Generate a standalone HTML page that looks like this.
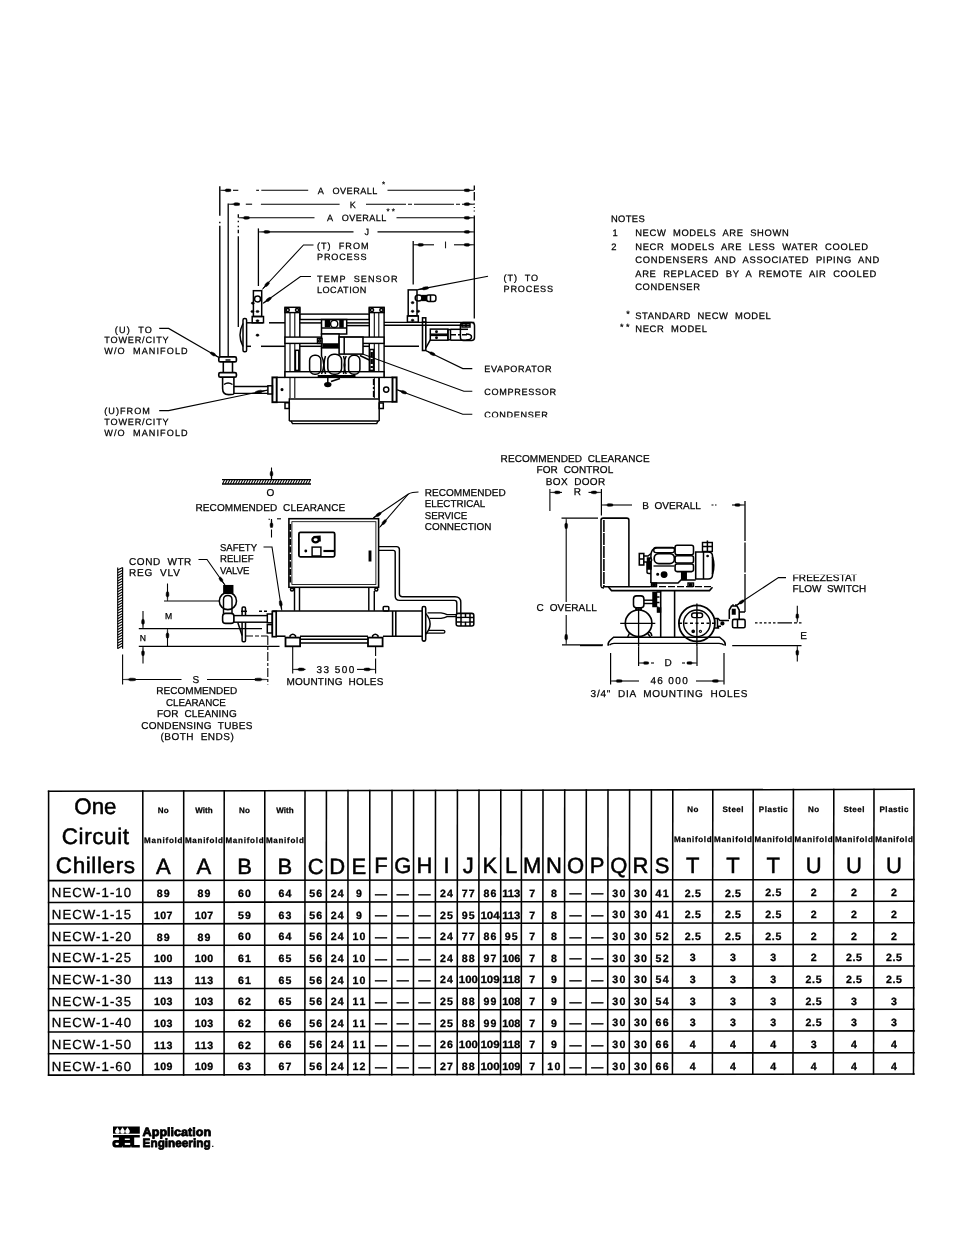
<!DOCTYPE html>
<html lang="en"><head><meta charset="utf-8"><title>One Circuit Chillers - Dimensions</title>
<style>
html,body{margin:0;padding:0;background:#fff}
svg{display:block;font-family:"Liberation Sans",sans-serif;will-change:transform;text-rendering:geometricPrecision}
text{fill:#000;stroke:none;white-space:pre}
.b{font-weight:bold}
.s3{stroke:#000;stroke-width:.3px}
.s2{stroke:#000;stroke-width:.25px}
.s5{stroke:#000;stroke-width:.5px}
.lg{stroke:#000;stroke-width:.8px;stroke-linejoin:round}
.d{font-size:9px}
</style></head><body>
<svg width="954" height="1235" viewBox="0 0 954 1235" stroke="#000" fill="none" stroke-width="1.3">
<rect x="0" y="0" width="954" height="1235" style="fill:#fff;stroke:none"/>
<g id="table">
<g stroke-width="1.55" stroke-linecap="square">
<line x1="48.6" y1="791.3" x2="48.6" y2="1075.1" stroke-width="1.55"/>
<line x1="142.8" y1="791.086" x2="142.746" y2="1074.98" stroke-width="1.55"/>
<line x1="183.7" y1="790.985" x2="183.622" y2="1074.92" stroke-width="1.55"/>
<line x1="224.2" y1="790.894" x2="224.099" y2="1074.87" stroke-width="1.55"/>
<line x1="264.8" y1="790.804" x2="264.675" y2="1074.82" stroke-width="1.55"/>
<line x1="305" y1="790.714" x2="304.852" y2="1074.77" stroke-width="1.55"/>
<line x1="326.4" y1="790.662" x2="326.24" y2="1074.74" stroke-width="1.55"/>
<line x1="348" y1="790.611" x2="347.827" y2="1074.71" stroke-width="1.55"/>
<line x1="369.8" y1="790.559" x2="369.615" y2="1074.68" stroke-width="1.55"/>
<line x1="392" y1="790.507" x2="391.802" y2="1074.65" stroke-width="1.55"/>
<line x1="413.6" y1="790.465" x2="413.389" y2="1074.63" stroke-width="1.55"/>
<line x1="435.5" y1="790.413" x2="435.277" y2="1074.6" stroke-width="1.55"/>
<line x1="457.4" y1="790.361" x2="457.164" y2="1074.57" stroke-width="1.55"/>
<line x1="479" y1="790.31" x2="478.752" y2="1074.54" stroke-width="1.55"/>
<line x1="500.8" y1="790.258" x2="500.539" y2="1074.51" stroke-width="1.55"/>
<line x1="521.5" y1="790.217" x2="521.227" y2="1074.49" stroke-width="1.55"/>
<line x1="543" y1="790.166" x2="542.715" y2="1074.46" stroke-width="1.55"/>
<line x1="564.7" y1="790.114" x2="564.402" y2="1074.43" stroke-width="1.55"/>
<line x1="586.3" y1="790.062" x2="585.99" y2="1074.4" stroke-width="1.55"/>
<line x1="608" y1="790.011" x2="607.677" y2="1074.37" stroke-width="1.55"/>
<line x1="629.6" y1="789.959" x2="629.265" y2="1074.34" stroke-width="1.55"/>
<line x1="651.4" y1="789.917" x2="651.052" y2="1074.32" stroke-width="1.55"/>
<line x1="672.8" y1="789.866" x2="672.44" y2="1074.29" stroke-width="1.55"/>
<line x1="712.8" y1="789.776" x2="712.417" y2="1074.24" stroke-width="1.55"/>
<line x1="753.2" y1="789.675" x2="752.793" y2="1074.18" stroke-width="1.55"/>
<line x1="793.4" y1="789.585" x2="792.97" y2="1074.13" stroke-width="1.55"/>
<line x1="833.8" y1="789.495" x2="833.347" y2="1074.08" stroke-width="1.55"/>
<line x1="874" y1="789.405" x2="873.523" y2="1074.03" stroke-width="1.55"/>
<line x1="914" y1="789.305" x2="913.5" y2="1073.97" stroke-width="1.55"/>
<line x1="48.6" y1="791.3" x2="914" y2="789.3" stroke-width="1.55"/>
<line x1="48.6" y1="880.6" x2="914" y2="879.47" stroke-width="1.55"/>
<line x1="48.6" y1="902.4" x2="914" y2="901.27" stroke-width="1.55"/>
<line x1="48.6" y1="923.9" x2="914" y2="922.77" stroke-width="1.55"/>
<line x1="48.6" y1="945.5" x2="914" y2="944.37" stroke-width="1.55"/>
<line x1="48.6" y1="967.1" x2="914" y2="965.97" stroke-width="1.55"/>
<line x1="48.6" y1="988.8" x2="914" y2="987.67" stroke-width="1.55"/>
<line x1="48.6" y1="1010.4" x2="914" y2="1009.27" stroke-width="1.55"/>
<line x1="48.6" y1="1032" x2="914" y2="1030.87" stroke-width="1.55"/>
<line x1="48.6" y1="1053.8" x2="914" y2="1052.67" stroke-width="1.55"/>
<line x1="48.6" y1="1075.1" x2="914" y2="1073.97" stroke-width="1.55"/>
</g>
<text x="74.3" y="813.6" font-size="22.5" textLength="42.2" lengthAdjust="spacingAndGlyphs" class="s5">One</text>
<text x="61.7" y="843.6" font-size="22.5" textLength="67.4" class="s5">Circuit</text>
<text x="55.8" y="873.2" font-size="22.5" textLength="79.2" class="s5">Chillers</text>
<text x="157.75" y="813.05" font-size="8" textLength="11" class="b s2">No</text>
<text x="144" y="843.05" font-size="8" textLength="38.5" class="b s2">Manifold</text>
<text x="195.2" y="813" font-size="8" textLength="17.5" class="b s2">With</text>
<text x="184.9" y="843" font-size="8" textLength="38.1" class="b s2">Manifold</text>
<text x="239" y="812.95" font-size="8" textLength="11" class="b s2">No</text>
<text x="225.4" y="842.95" font-size="8" textLength="38.2" class="b s2">Manifold</text>
<text x="276.15" y="812.89" font-size="8" textLength="17.5" class="b s2">With</text>
<text x="266" y="842.89" font-size="8" textLength="37.8" class="b s2">Manifold</text>
<text x="687.3" y="812.36" font-size="8" textLength="11" class="b s2">No</text>
<text x="674" y="842.36" font-size="8" textLength="37.6" class="b s2">Manifold</text>
<text x="722.5" y="812.31" font-size="8" textLength="21" class="b s2">Steel</text>
<text x="714" y="842.31" font-size="8" textLength="38" class="b s2">Manifold</text>
<text x="758.8" y="812.26" font-size="8" textLength="29" class="b s2">Plastic</text>
<text x="754.4" y="842.26" font-size="8" textLength="37.8" class="b s2">Manifold</text>
<text x="808.1" y="812.21" font-size="8" textLength="11" class="b s2">No</text>
<text x="794.6" y="842.21" font-size="8" textLength="38" class="b s2">Manifold</text>
<text x="843.4" y="812.15" font-size="8" textLength="21" class="b s2">Steel</text>
<text x="835" y="842.15" font-size="8" textLength="37.8" class="b s2">Manifold</text>
<text x="879.5" y="812.1" font-size="8" textLength="29" class="b s2">Plastic</text>
<text x="875.2" y="842.1" font-size="8" textLength="37.6" class="b s2">Manifold</text>
<text x="163.25" y="873.75" font-size="22" text-anchor="middle" class="s5">A</text>
<text x="203.95" y="873.7" font-size="22" text-anchor="middle" class="s5">A</text>
<text x="244.5" y="873.65" font-size="22" text-anchor="middle" class="s5">B</text>
<text x="284.9" y="873.59" font-size="22" text-anchor="middle" class="s5">B</text>
<text x="315.7" y="873.55" font-size="22" text-anchor="middle" class="s5">C</text>
<text x="337.2" y="873.52" font-size="22" text-anchor="middle" class="s5">D</text>
<text x="358.9" y="873.5" font-size="22" text-anchor="middle" class="s5">E</text>
<text x="380.9" y="873.47" font-size="22" text-anchor="middle" class="s5">F</text>
<text x="402.8" y="873.44" font-size="22" text-anchor="middle" class="s5">G</text>
<text x="424.55" y="873.41" font-size="22" text-anchor="middle" class="s5">H</text>
<text x="446.45" y="873.38" font-size="22" text-anchor="middle" class="s5">I</text>
<text x="468.2" y="873.35" font-size="22" text-anchor="middle" class="s5">J</text>
<text x="489.9" y="873.33" font-size="22" text-anchor="middle" class="s5">K</text>
<text x="511.15" y="873.3" font-size="22" text-anchor="middle" class="s5">L</text>
<text x="532.25" y="873.27" font-size="22" text-anchor="middle" class="s5">M</text>
<text x="553.85" y="873.24" font-size="22" text-anchor="middle" class="s5">N</text>
<text x="575.5" y="873.22" font-size="22" text-anchor="middle" class="s5">O</text>
<text x="597.15" y="873.19" font-size="22" text-anchor="middle" class="s5">P</text>
<text x="618.8" y="873.16" font-size="22" text-anchor="middle" class="s5">Q</text>
<text x="640.5" y="873.13" font-size="22" text-anchor="middle" class="s5">R</text>
<text x="662.1" y="873.1" font-size="22" text-anchor="middle" class="s5">S</text>
<text x="692.8" y="873.06" font-size="22" text-anchor="middle" class="s5">T</text>
<text x="733" y="873.01" font-size="22" text-anchor="middle" class="s5">T</text>
<text x="773.3" y="872.96" font-size="22" text-anchor="middle" class="s5">T</text>
<text x="813.6" y="872.91" font-size="22" text-anchor="middle" class="s5">U</text>
<text x="853.9" y="872.85" font-size="22" text-anchor="middle" class="s5">U</text>
<text x="894" y="872.8" font-size="22" text-anchor="middle" class="s5">U</text>
<text x="51.8" y="897.4" font-size="13.2" textLength="79.3" class="s3">NECW-1-10</text>
<text x="156.75" y="897.25" font-size="10.6" textLength="13" class="b s3">89</text>
<text x="197.45" y="897.2" font-size="10.6" textLength="13" class="b s3">89</text>
<text x="238" y="897.15" font-size="10.6" textLength="13" class="b s3">60</text>
<text x="278.4" y="897.09" font-size="10.6" textLength="13" class="b s3">64</text>
<text x="309.2" y="897.05" font-size="10.6" textLength="13" class="b s3">56</text>
<text x="330.7" y="897.02" font-size="10.6" textLength="13" class="b s3">24</text>
<text x="358.9" y="897" font-size="10.6" text-anchor="middle" class="b s3">9</text>
<text x="380.9" y="897.67" font-size="12" text-anchor="middle" class="b s3">—</text>
<text x="402.8" y="897.64" font-size="12" text-anchor="middle" class="b s3">—</text>
<text x="424.55" y="897.61" font-size="12" text-anchor="middle" class="b s3">—</text>
<text x="439.95" y="896.88" font-size="10.6" textLength="13" class="b s3">24</text>
<text x="461.7" y="896.85" font-size="10.6" textLength="13" class="b s3">77</text>
<text x="483.4" y="896.83" font-size="10.6" textLength="13" class="b s3">86</text>
<text x="502.2" y="896.8" font-size="10.6" textLength="18.1" lengthAdjust="spacingAndGlyphs" class="b s3">113</text>
<text x="532.25" y="896.77" font-size="10.6" text-anchor="middle" class="b s3">7</text>
<text x="553.85" y="896.74" font-size="10.6" text-anchor="middle" class="b s3">8</text>
<text x="575.5" y="897.42" font-size="12" text-anchor="middle" class="b s3">—</text>
<text x="597.15" y="897.39" font-size="12" text-anchor="middle" class="b s3">—</text>
<text x="612.3" y="896.66" font-size="10.6" textLength="13" class="b s3">30</text>
<text x="634" y="896.63" font-size="10.6" textLength="13" class="b s3">30</text>
<text x="655.6" y="896.6" font-size="10.6" textLength="13" class="b s3">41</text>
<text x="684.8" y="896.56" font-size="10.6" textLength="16" class="b s3">2.5</text>
<text x="725" y="896.51" font-size="10.6" textLength="16" class="b s3">2.5</text>
<text x="765.3" y="896.46" font-size="10.6" textLength="16" class="b s3">2.5</text>
<text x="813.6" y="896.41" font-size="10.6" text-anchor="middle" class="b s3">2</text>
<text x="853.9" y="896.35" font-size="10.6" text-anchor="middle" class="b s3">2</text>
<text x="894" y="896.3" font-size="10.6" text-anchor="middle" class="b s3">2</text>
<text x="51.8" y="919.2" font-size="13.2" textLength="79.3" class="s3">NECW-1-15</text>
<text x="154.05" y="919.05" font-size="10.6" textLength="18.4" class="b s3">107</text>
<text x="194.75" y="919" font-size="10.6" textLength="18.4" class="b s3">107</text>
<text x="238" y="918.95" font-size="10.6" textLength="13" class="b s3">59</text>
<text x="278.4" y="918.89" font-size="10.6" textLength="13" class="b s3">63</text>
<text x="309.2" y="918.85" font-size="10.6" textLength="13" class="b s3">56</text>
<text x="330.7" y="918.82" font-size="10.6" textLength="13" class="b s3">24</text>
<text x="358.9" y="918.8" font-size="10.6" text-anchor="middle" class="b s3">9</text>
<text x="380.9" y="919.47" font-size="12" text-anchor="middle" class="b s3">—</text>
<text x="402.8" y="919.44" font-size="12" text-anchor="middle" class="b s3">—</text>
<text x="424.55" y="919.41" font-size="12" text-anchor="middle" class="b s3">—</text>
<text x="439.95" y="918.68" font-size="10.6" textLength="13" class="b s3">25</text>
<text x="461.7" y="918.65" font-size="10.6" textLength="13" class="b s3">95</text>
<text x="480.4" y="918.63" font-size="10.6" textLength="19.2" lengthAdjust="spacingAndGlyphs" class="b s3">104</text>
<text x="502.2" y="918.6" font-size="10.6" textLength="18.1" lengthAdjust="spacingAndGlyphs" class="b s3">113</text>
<text x="532.25" y="918.57" font-size="10.6" text-anchor="middle" class="b s3">7</text>
<text x="553.85" y="918.54" font-size="10.6" text-anchor="middle" class="b s3">8</text>
<text x="575.5" y="919.22" font-size="12" text-anchor="middle" class="b s3">—</text>
<text x="597.15" y="919.19" font-size="12" text-anchor="middle" class="b s3">—</text>
<text x="612.3" y="918.46" font-size="10.6" textLength="13" class="b s3">30</text>
<text x="634" y="918.43" font-size="10.6" textLength="13" class="b s3">30</text>
<text x="655.6" y="918.4" font-size="10.6" textLength="13" class="b s3">41</text>
<text x="684.8" y="918.36" font-size="10.6" textLength="16" class="b s3">2.5</text>
<text x="725" y="918.31" font-size="10.6" textLength="16" class="b s3">2.5</text>
<text x="765.3" y="918.26" font-size="10.6" textLength="16" class="b s3">2.5</text>
<text x="813.6" y="918.21" font-size="10.6" text-anchor="middle" class="b s3">2</text>
<text x="853.9" y="918.15" font-size="10.6" text-anchor="middle" class="b s3">2</text>
<text x="894" y="918.1" font-size="10.6" text-anchor="middle" class="b s3">2</text>
<text x="51.8" y="940.7" font-size="13.2" textLength="79.3" class="s3">NECW-1-20</text>
<text x="156.75" y="940.55" font-size="10.6" textLength="13" class="b s3">89</text>
<text x="197.45" y="940.5" font-size="10.6" textLength="13" class="b s3">89</text>
<text x="238" y="940.45" font-size="10.6" textLength="13" class="b s3">60</text>
<text x="278.4" y="940.39" font-size="10.6" textLength="13" class="b s3">64</text>
<text x="309.2" y="940.35" font-size="10.6" textLength="13" class="b s3">56</text>
<text x="330.7" y="940.32" font-size="10.6" textLength="13" class="b s3">24</text>
<text x="352.4" y="940.3" font-size="10.6" textLength="13" class="b s3">10</text>
<text x="380.9" y="940.97" font-size="12" text-anchor="middle" class="b s3">—</text>
<text x="402.8" y="940.94" font-size="12" text-anchor="middle" class="b s3">—</text>
<text x="424.55" y="940.91" font-size="12" text-anchor="middle" class="b s3">—</text>
<text x="439.95" y="940.18" font-size="10.6" textLength="13" class="b s3">24</text>
<text x="461.7" y="940.15" font-size="10.6" textLength="13" class="b s3">77</text>
<text x="483.4" y="940.13" font-size="10.6" textLength="13" class="b s3">86</text>
<text x="504.65" y="940.1" font-size="10.6" textLength="13" class="b s3">95</text>
<text x="532.25" y="940.07" font-size="10.6" text-anchor="middle" class="b s3">7</text>
<text x="553.85" y="940.04" font-size="10.6" text-anchor="middle" class="b s3">8</text>
<text x="575.5" y="940.72" font-size="12" text-anchor="middle" class="b s3">—</text>
<text x="597.15" y="940.69" font-size="12" text-anchor="middle" class="b s3">—</text>
<text x="612.3" y="939.96" font-size="10.6" textLength="13" class="b s3">30</text>
<text x="634" y="939.93" font-size="10.6" textLength="13" class="b s3">30</text>
<text x="655.6" y="939.9" font-size="10.6" textLength="13" class="b s3">52</text>
<text x="684.8" y="939.86" font-size="10.6" textLength="16" class="b s3">2.5</text>
<text x="725" y="939.81" font-size="10.6" textLength="16" class="b s3">2.5</text>
<text x="765.3" y="939.76" font-size="10.6" textLength="16" class="b s3">2.5</text>
<text x="813.6" y="939.71" font-size="10.6" text-anchor="middle" class="b s3">2</text>
<text x="853.9" y="939.65" font-size="10.6" text-anchor="middle" class="b s3">2</text>
<text x="894" y="939.6" font-size="10.6" text-anchor="middle" class="b s3">2</text>
<text x="51.8" y="962.3" font-size="13.2" textLength="79.3" class="s3">NECW-1-25</text>
<text x="154.05" y="962.15" font-size="10.6" textLength="18.4" class="b s3">100</text>
<text x="194.75" y="962.1" font-size="10.6" textLength="18.4" class="b s3">100</text>
<text x="238" y="962.05" font-size="10.6" textLength="13" class="b s3">61</text>
<text x="278.4" y="961.99" font-size="10.6" textLength="13" class="b s3">65</text>
<text x="309.2" y="961.95" font-size="10.6" textLength="13" class="b s3">56</text>
<text x="330.7" y="961.92" font-size="10.6" textLength="13" class="b s3">24</text>
<text x="352.4" y="961.9" font-size="10.6" textLength="13" class="b s3">10</text>
<text x="380.9" y="962.57" font-size="12" text-anchor="middle" class="b s3">—</text>
<text x="402.8" y="962.54" font-size="12" text-anchor="middle" class="b s3">—</text>
<text x="424.55" y="962.51" font-size="12" text-anchor="middle" class="b s3">—</text>
<text x="439.95" y="961.78" font-size="10.6" textLength="13" class="b s3">24</text>
<text x="461.7" y="961.75" font-size="10.6" textLength="13" class="b s3">88</text>
<text x="483.4" y="961.73" font-size="10.6" textLength="13" class="b s3">97</text>
<text x="502.2" y="961.7" font-size="10.6" textLength="18.1" lengthAdjust="spacingAndGlyphs" class="b s3">106</text>
<text x="532.25" y="961.67" font-size="10.6" text-anchor="middle" class="b s3">7</text>
<text x="553.85" y="961.64" font-size="10.6" text-anchor="middle" class="b s3">8</text>
<text x="575.5" y="962.32" font-size="12" text-anchor="middle" class="b s3">—</text>
<text x="597.15" y="962.29" font-size="12" text-anchor="middle" class="b s3">—</text>
<text x="612.3" y="961.56" font-size="10.6" textLength="13" class="b s3">30</text>
<text x="634" y="961.53" font-size="10.6" textLength="13" class="b s3">30</text>
<text x="655.6" y="961.5" font-size="10.6" textLength="13" class="b s3">52</text>
<text x="692.8" y="961.46" font-size="10.6" text-anchor="middle" class="b s3">3</text>
<text x="733" y="961.41" font-size="10.6" text-anchor="middle" class="b s3">3</text>
<text x="773.3" y="961.36" font-size="10.6" text-anchor="middle" class="b s3">3</text>
<text x="813.6" y="961.31" font-size="10.6" text-anchor="middle" class="b s3">2</text>
<text x="845.9" y="961.25" font-size="10.6" textLength="16" class="b s3">2.5</text>
<text x="886" y="961.2" font-size="10.6" textLength="16" class="b s3">2.5</text>
<text x="51.8" y="983.9" font-size="13.2" textLength="79.3" class="s3">NECW-1-30</text>
<text x="154.05" y="983.75" font-size="10.6" textLength="18.4" class="b s3">113</text>
<text x="194.75" y="983.7" font-size="10.6" textLength="18.4" class="b s3">113</text>
<text x="238" y="983.65" font-size="10.6" textLength="13" class="b s3">61</text>
<text x="278.4" y="983.59" font-size="10.6" textLength="13" class="b s3">65</text>
<text x="309.2" y="983.55" font-size="10.6" textLength="13" class="b s3">56</text>
<text x="330.7" y="983.52" font-size="10.6" textLength="13" class="b s3">24</text>
<text x="352.4" y="983.5" font-size="10.6" textLength="13" class="b s3">10</text>
<text x="380.9" y="984.17" font-size="12" text-anchor="middle" class="b s3">—</text>
<text x="402.8" y="984.14" font-size="12" text-anchor="middle" class="b s3">—</text>
<text x="424.55" y="984.11" font-size="12" text-anchor="middle" class="b s3">—</text>
<text x="439.95" y="983.38" font-size="10.6" textLength="13" class="b s3">24</text>
<text x="458.8" y="983.35" font-size="10.6" textLength="19" lengthAdjust="spacingAndGlyphs" class="b s3">100</text>
<text x="480.4" y="983.33" font-size="10.6" textLength="19.2" lengthAdjust="spacingAndGlyphs" class="b s3">109</text>
<text x="502.2" y="983.3" font-size="10.6" textLength="18.1" lengthAdjust="spacingAndGlyphs" class="b s3">118</text>
<text x="532.25" y="983.27" font-size="10.6" text-anchor="middle" class="b s3">7</text>
<text x="553.85" y="983.24" font-size="10.6" text-anchor="middle" class="b s3">9</text>
<text x="575.5" y="983.92" font-size="12" text-anchor="middle" class="b s3">—</text>
<text x="597.15" y="983.89" font-size="12" text-anchor="middle" class="b s3">—</text>
<text x="612.3" y="983.16" font-size="10.6" textLength="13" class="b s3">30</text>
<text x="634" y="983.13" font-size="10.6" textLength="13" class="b s3">30</text>
<text x="655.6" y="983.1" font-size="10.6" textLength="13" class="b s3">54</text>
<text x="692.8" y="983.06" font-size="10.6" text-anchor="middle" class="b s3">3</text>
<text x="733" y="983.01" font-size="10.6" text-anchor="middle" class="b s3">3</text>
<text x="773.3" y="982.96" font-size="10.6" text-anchor="middle" class="b s3">3</text>
<text x="805.6" y="982.91" font-size="10.6" textLength="16" class="b s3">2.5</text>
<text x="845.9" y="982.85" font-size="10.6" textLength="16" class="b s3">2.5</text>
<text x="886" y="982.8" font-size="10.6" textLength="16" class="b s3">2.5</text>
<text x="51.8" y="1005.6" font-size="13.2" textLength="79.3" class="s3">NECW-1-35</text>
<text x="154.05" y="1005.45" font-size="10.6" textLength="18.4" class="b s3">103</text>
<text x="194.75" y="1005.4" font-size="10.6" textLength="18.4" class="b s3">103</text>
<text x="238" y="1005.35" font-size="10.6" textLength="13" class="b s3">62</text>
<text x="278.4" y="1005.29" font-size="10.6" textLength="13" class="b s3">65</text>
<text x="309.2" y="1005.25" font-size="10.6" textLength="13" class="b s3">56</text>
<text x="330.7" y="1005.22" font-size="10.6" textLength="13" class="b s3">24</text>
<text x="352.4" y="1005.2" font-size="10.6" textLength="13" class="b s3">11</text>
<text x="380.9" y="1005.87" font-size="12" text-anchor="middle" class="b s3">—</text>
<text x="402.8" y="1005.84" font-size="12" text-anchor="middle" class="b s3">—</text>
<text x="424.55" y="1005.81" font-size="12" text-anchor="middle" class="b s3">—</text>
<text x="439.95" y="1005.08" font-size="10.6" textLength="13" class="b s3">25</text>
<text x="461.7" y="1005.05" font-size="10.6" textLength="13" class="b s3">88</text>
<text x="483.4" y="1005.03" font-size="10.6" textLength="13" class="b s3">99</text>
<text x="502.2" y="1005" font-size="10.6" textLength="18.1" lengthAdjust="spacingAndGlyphs" class="b s3">108</text>
<text x="532.25" y="1004.97" font-size="10.6" text-anchor="middle" class="b s3">7</text>
<text x="553.85" y="1004.94" font-size="10.6" text-anchor="middle" class="b s3">9</text>
<text x="575.5" y="1005.62" font-size="12" text-anchor="middle" class="b s3">—</text>
<text x="597.15" y="1005.59" font-size="12" text-anchor="middle" class="b s3">—</text>
<text x="612.3" y="1004.86" font-size="10.6" textLength="13" class="b s3">30</text>
<text x="634" y="1004.83" font-size="10.6" textLength="13" class="b s3">30</text>
<text x="655.6" y="1004.8" font-size="10.6" textLength="13" class="b s3">54</text>
<text x="692.8" y="1004.76" font-size="10.6" text-anchor="middle" class="b s3">3</text>
<text x="733" y="1004.71" font-size="10.6" text-anchor="middle" class="b s3">3</text>
<text x="773.3" y="1004.66" font-size="10.6" text-anchor="middle" class="b s3">3</text>
<text x="805.6" y="1004.61" font-size="10.6" textLength="16" class="b s3">2.5</text>
<text x="853.9" y="1004.55" font-size="10.6" text-anchor="middle" class="b s3">3</text>
<text x="894" y="1004.5" font-size="10.6" text-anchor="middle" class="b s3">3</text>
<text x="51.8" y="1027.2" font-size="13.2" textLength="79.3" class="s3">NECW-1-40</text>
<text x="154.05" y="1027.05" font-size="10.6" textLength="18.4" class="b s3">103</text>
<text x="194.75" y="1027" font-size="10.6" textLength="18.4" class="b s3">103</text>
<text x="238" y="1026.95" font-size="10.6" textLength="13" class="b s3">62</text>
<text x="278.4" y="1026.89" font-size="10.6" textLength="13" class="b s3">66</text>
<text x="309.2" y="1026.85" font-size="10.6" textLength="13" class="b s3">56</text>
<text x="330.7" y="1026.82" font-size="10.6" textLength="13" class="b s3">24</text>
<text x="352.4" y="1026.8" font-size="10.6" textLength="13" class="b s3">11</text>
<text x="380.9" y="1027.47" font-size="12" text-anchor="middle" class="b s3">—</text>
<text x="402.8" y="1027.44" font-size="12" text-anchor="middle" class="b s3">—</text>
<text x="424.55" y="1027.41" font-size="12" text-anchor="middle" class="b s3">—</text>
<text x="439.95" y="1026.68" font-size="10.6" textLength="13" class="b s3">25</text>
<text x="461.7" y="1026.65" font-size="10.6" textLength="13" class="b s3">88</text>
<text x="483.4" y="1026.63" font-size="10.6" textLength="13" class="b s3">99</text>
<text x="502.2" y="1026.6" font-size="10.6" textLength="18.1" lengthAdjust="spacingAndGlyphs" class="b s3">108</text>
<text x="532.25" y="1026.57" font-size="10.6" text-anchor="middle" class="b s3">7</text>
<text x="553.85" y="1026.54" font-size="10.6" text-anchor="middle" class="b s3">9</text>
<text x="575.5" y="1027.22" font-size="12" text-anchor="middle" class="b s3">—</text>
<text x="597.15" y="1027.19" font-size="12" text-anchor="middle" class="b s3">—</text>
<text x="612.3" y="1026.46" font-size="10.6" textLength="13" class="b s3">30</text>
<text x="634" y="1026.43" font-size="10.6" textLength="13" class="b s3">30</text>
<text x="655.6" y="1026.4" font-size="10.6" textLength="13" class="b s3">66</text>
<text x="692.8" y="1026.36" font-size="10.6" text-anchor="middle" class="b s3">3</text>
<text x="733" y="1026.31" font-size="10.6" text-anchor="middle" class="b s3">3</text>
<text x="773.3" y="1026.26" font-size="10.6" text-anchor="middle" class="b s3">3</text>
<text x="805.6" y="1026.21" font-size="10.6" textLength="16" class="b s3">2.5</text>
<text x="853.9" y="1026.15" font-size="10.6" text-anchor="middle" class="b s3">3</text>
<text x="894" y="1026.1" font-size="10.6" text-anchor="middle" class="b s3">3</text>
<text x="51.8" y="1048.8" font-size="13.2" textLength="79.3" class="s3">NECW-1-50</text>
<text x="154.05" y="1048.65" font-size="10.6" textLength="18.4" class="b s3">113</text>
<text x="194.75" y="1048.6" font-size="10.6" textLength="18.4" class="b s3">113</text>
<text x="238" y="1048.55" font-size="10.6" textLength="13" class="b s3">62</text>
<text x="278.4" y="1048.49" font-size="10.6" textLength="13" class="b s3">66</text>
<text x="309.2" y="1048.45" font-size="10.6" textLength="13" class="b s3">56</text>
<text x="330.7" y="1048.42" font-size="10.6" textLength="13" class="b s3">24</text>
<text x="352.4" y="1048.4" font-size="10.6" textLength="13" class="b s3">11</text>
<text x="380.9" y="1049.07" font-size="12" text-anchor="middle" class="b s3">—</text>
<text x="402.8" y="1049.04" font-size="12" text-anchor="middle" class="b s3">—</text>
<text x="424.55" y="1049.01" font-size="12" text-anchor="middle" class="b s3">—</text>
<text x="439.95" y="1048.28" font-size="10.6" textLength="13" class="b s3">26</text>
<text x="458.8" y="1048.25" font-size="10.6" textLength="19" lengthAdjust="spacingAndGlyphs" class="b s3">100</text>
<text x="480.4" y="1048.23" font-size="10.6" textLength="19.2" lengthAdjust="spacingAndGlyphs" class="b s3">109</text>
<text x="502.2" y="1048.2" font-size="10.6" textLength="18.1" lengthAdjust="spacingAndGlyphs" class="b s3">118</text>
<text x="532.25" y="1048.17" font-size="10.6" text-anchor="middle" class="b s3">7</text>
<text x="553.85" y="1048.14" font-size="10.6" text-anchor="middle" class="b s3">9</text>
<text x="575.5" y="1048.82" font-size="12" text-anchor="middle" class="b s3">—</text>
<text x="597.15" y="1048.79" font-size="12" text-anchor="middle" class="b s3">—</text>
<text x="612.3" y="1048.06" font-size="10.6" textLength="13" class="b s3">30</text>
<text x="634" y="1048.03" font-size="10.6" textLength="13" class="b s3">30</text>
<text x="655.6" y="1048" font-size="10.6" textLength="13" class="b s3">66</text>
<text x="692.8" y="1047.96" font-size="10.6" text-anchor="middle" class="b s3">4</text>
<text x="733" y="1047.91" font-size="10.6" text-anchor="middle" class="b s3">4</text>
<text x="773.3" y="1047.86" font-size="10.6" text-anchor="middle" class="b s3">4</text>
<text x="813.6" y="1047.81" font-size="10.6" text-anchor="middle" class="b s3">3</text>
<text x="853.9" y="1047.75" font-size="10.6" text-anchor="middle" class="b s3">4</text>
<text x="894" y="1047.7" font-size="10.6" text-anchor="middle" class="b s3">4</text>
<text x="51.8" y="1070.6" font-size="13.2" textLength="79.3" class="s3">NECW-1-60</text>
<text x="154.05" y="1070.45" font-size="10.6" textLength="18.4" class="b s3">109</text>
<text x="194.75" y="1070.4" font-size="10.6" textLength="18.4" class="b s3">109</text>
<text x="238" y="1070.35" font-size="10.6" textLength="13" class="b s3">63</text>
<text x="278.4" y="1070.29" font-size="10.6" textLength="13" class="b s3">67</text>
<text x="309.2" y="1070.25" font-size="10.6" textLength="13" class="b s3">56</text>
<text x="330.7" y="1070.22" font-size="10.6" textLength="13" class="b s3">24</text>
<text x="352.4" y="1070.2" font-size="10.6" textLength="13" class="b s3">12</text>
<text x="380.9" y="1070.87" font-size="12" text-anchor="middle" class="b s3">—</text>
<text x="402.8" y="1070.84" font-size="12" text-anchor="middle" class="b s3">—</text>
<text x="424.55" y="1070.81" font-size="12" text-anchor="middle" class="b s3">—</text>
<text x="439.95" y="1070.08" font-size="10.6" textLength="13" class="b s3">27</text>
<text x="461.7" y="1070.05" font-size="10.6" textLength="13" class="b s3">88</text>
<text x="480.4" y="1070.03" font-size="10.6" textLength="19.2" lengthAdjust="spacingAndGlyphs" class="b s3">100</text>
<text x="502.2" y="1070" font-size="10.6" textLength="18.1" lengthAdjust="spacingAndGlyphs" class="b s3">109</text>
<text x="532.25" y="1069.97" font-size="10.6" text-anchor="middle" class="b s3">7</text>
<text x="547.35" y="1069.94" font-size="10.6" textLength="13" class="b s3">10</text>
<text x="575.5" y="1070.62" font-size="12" text-anchor="middle" class="b s3">—</text>
<text x="597.15" y="1070.59" font-size="12" text-anchor="middle" class="b s3">—</text>
<text x="612.3" y="1069.86" font-size="10.6" textLength="13" class="b s3">30</text>
<text x="634" y="1069.83" font-size="10.6" textLength="13" class="b s3">30</text>
<text x="655.6" y="1069.8" font-size="10.6" textLength="13" class="b s3">66</text>
<text x="692.8" y="1069.76" font-size="10.6" text-anchor="middle" class="b s3">4</text>
<text x="733" y="1069.71" font-size="10.6" text-anchor="middle" class="b s3">4</text>
<text x="773.3" y="1069.66" font-size="10.6" text-anchor="middle" class="b s3">4</text>
<text x="813.6" y="1069.61" font-size="10.6" text-anchor="middle" class="b s3">4</text>
<text x="853.9" y="1069.55" font-size="10.6" text-anchor="middle" class="b s3">4</text>
<text x="894" y="1069.5" font-size="10.6" text-anchor="middle" class="b s3">4</text>
</g>
<g id="notes">
<g class="n">
<text x="611" y="221.6" font-size="9.4" textLength="33.7" class="s2">NOTES</text>
<text x="612.6" y="235.8" font-size="9.4" class="s2">1</text>
<text x="635.2" y="235.8" font-size="9.4" textLength="153.5" class="s2">NECW  MODELS  ARE  SHOWN</text>
<text x="611.3" y="249.9" font-size="9.4" class="s2">2</text>
<text x="635.2" y="249.9" font-size="9.4" textLength="232.8" class="s2">NECR  MODELS  ARE  LESS  WATER  COOLED</text>
<text x="635.2" y="262.8" font-size="9.4" textLength="244" class="s2">CONDENSERS  AND  ASSOCIATED  PIPING  AND</text>
<text x="635.2" y="276.6" font-size="9.4" textLength="241" class="s2">ARE  REPLACED  BY  A  REMOTE  AIR  COOLED</text>
<text x="635.2" y="290.2" font-size="9.4" textLength="64.8" class="s2">CONDENSER</text>
<text x="626.3" y="316.6" font-size="9" class="s2">*</text>
<text x="635.2" y="318.8" font-size="9.4" textLength="135.6" class="s2">STANDARD  NECW  MODEL</text>
<text x="620" y="330.1" font-size="9" textLength="9.5" class="s2">**</text>
<text x="635.2" y="331.9" font-size="9.4" textLength="71.8" class="s2">NECR  MODEL</text>
</g>
</g>
<g id="logo">
<g stroke="none" fill="#000">
<rect x="113" y="1126.5" width="26.8" height="7.2"/>
<path d="M117.4 1127.3 L119.5 1130.6 A2.3 2.3 0 1 1 115.3 1130.6 Z" fill="#fff"/>
<path d="M122.5 1127.3 L124.6 1130.6 A2.3 2.3 0 1 1 120.4 1130.6 Z" fill="#fff"/>
<path d="M127.5 1127.3 L129.6 1130.6 A2.3 2.3 0 1 1 125.4 1130.6 Z" fill="#fff"/>
<path d="M113 1135.1 H139.8 V1137.6 H134.2 V1144.9 H139.8 V1147.4 H115.4 Q112.3 1147.4 112.3 1143.8 Q112.3 1140.1 115.4 1140.1 H118.9 V1137.6 H113 Z"/>
<g fill="#fff">
<rect x="115.4" y="1142.8" width="3.5" height="2.1" rx="0.8"/>
<rect x="124.8" y="1138.5" width="5" height="1.5"/>
<rect x="124.8" y="1142.9" width="5.4" height="2"/>
<path d="M121.6 1147.6 L122.4 1146.2 L123.2 1147.6 Z M130.2 1147.6 L131 1146.2 L131.8 1147.6 Z"/>
</g>
</g>
<text x="142.6" y="1136.1" font-size="12" textLength="68.6" lengthAdjust="spacingAndGlyphs" class="b lg">Application</text>
<text x="142.6" y="1146.6" font-size="12" textLength="68" lengthAdjust="spacingAndGlyphs" class="b lg">Engineering</text>
<text x="211.6" y="1147.2" font-size="9" class="b">.</text>
</g>
<g id="top">
<g stroke-width="1.1">
<line x1="219.8" y1="186.3" x2="219.8" y2="356.5" stroke-width="1.4" stroke-dasharray="29.5 6 1.5 2.5 400 0"/>
<line x1="228.2" y1="203.4" x2="228.2" y2="356.5" stroke-width="1.3"/>
<line x1="238.3" y1="214.3" x2="238.3" y2="327" stroke-width="1.3" stroke-dasharray="3.5 3 1.5 3.5 1.5 2.5 3.5 3 300 0"/>
<line x1="258.4" y1="228.4" x2="258.4" y2="286" stroke-width="1.3"/>
<line x1="413.2" y1="241" x2="413.2" y2="284.5" stroke-width="1.3"/>
<line x1="474.3" y1="185.4" x2="474.3" y2="318.5" stroke-width="1.3" stroke-dasharray="4.7 1.9 8.5 3 1 2.5 1 2.5 1 4 400 0"/>
<path d="M220.3 190.3 L224.71 190.65 L226.39 191.65 L228.7 191.65 L230.8 191.25 L230.8 189.36 L228.7 188.95 L226.39 188.95 L224.71 189.95 Z" stroke-width="0.5" fill="#000"/>
<line x1="233" y1="190.3" x2="238.3" y2="190.3"/>
<line x1="256.2" y1="190.3" x2="259" y2="190.3"/>
<line x1="261.3" y1="190.3" x2="308.2" y2="190.3"/>
<text x="317.7" y="193.5" font-size="9.1" textLength="59.5" class="s2">A   OVERALL</text>
<text x="382" y="186.5" font-size="8" class="s2">*</text>
<line x1="387.5" y1="190.3" x2="466" y2="190.3"/>
<path d="M474.2 190.3 L470.08 189.95 L468.52 188.95 L466.36 188.95 L464.4 189.36 L464.4 191.25 L466.36 191.65 L468.52 191.65 L470.08 190.65 Z" stroke-width="0.5" fill="#000"/>
<path d="M228.6 204.2 L233.19 204.55 L234.93 205.55 L237.34 205.55 L239.52 205.14 L239.52 203.25 L237.34 202.85 L234.93 202.85 L233.19 203.85 Z" stroke-width="0.5" fill="#000"/>
<line x1="245.8" y1="204.2" x2="252.1" y2="204.2"/>
<line x1="260.9" y1="204.2" x2="339.6" y2="204.2"/>
<text x="349.8" y="207.6" font-size="9.1" class="s2">K</text>
<line x1="366" y1="204.2" x2="466" y2="204.2" stroke-dasharray="40 2 4 2"/>
<path d="M474.2 204.2 L470.08 203.85 L468.52 202.85 L466.36 202.85 L464.4 203.25 L464.4 205.14 L466.36 205.55 L468.52 205.55 L470.08 204.55 Z" stroke-width="0.5" fill="#000"/>
<path d="M238.6 217.8 L243.07 218.15 L244.77 219.15 L247.11 219.15 L249.24 218.75 L249.24 216.86 L247.11 216.45 L244.77 216.45 L243.07 217.45 Z" stroke-width="0.5" fill="#000"/>
<line x1="248" y1="217.8" x2="314.5" y2="217.8"/>
<text x="327" y="221.3" font-size="9.1" textLength="59.2" class="s2">A   OVERALL</text>
<text x="386.6" y="214.3" font-size="8" textLength="8.2" class="s2">**</text>
<line x1="396.5" y1="217.8" x2="466" y2="217.8"/>
<path d="M474.2 217.8 L470.08 217.45 L468.52 216.45 L466.36 216.45 L464.4 216.86 L464.4 218.75 L466.36 219.15 L468.52 219.15 L470.08 218.15 Z" stroke-width="0.5" fill="#000"/>
<path d="M258.7 231.9 L263.29 232.25 L265.03 233.25 L267.44 233.25 L269.62 232.84 L269.62 230.96 L267.44 230.55 L265.03 230.55 L263.29 231.55 Z" stroke-width="0.5" fill="#000"/>
<line x1="268" y1="231.9" x2="353.5" y2="231.9"/>
<text x="364.6" y="235.4" font-size="9.1" class="s2">J</text>
<line x1="377.5" y1="231.9" x2="466" y2="231.9"/>
<path d="M474.2 231.9 L470.08 231.55 L468.52 230.55 L466.36 230.55 L464.4 230.96 L464.4 232.84 L466.36 233.25 L468.52 233.25 L470.08 232.25 Z" stroke-width="0.5" fill="#000"/>
<path d="M413.4 244.8 L417.52 245.15 L419.08 246.15 L421.24 246.15 L423.2 245.75 L423.2 243.86 L421.24 243.45 L419.08 243.45 L417.52 244.45 Z" stroke-width="0.5" fill="#000"/>
<line x1="420" y1="244.8" x2="434" y2="244.8"/>
<text x="444.2" y="248" font-size="9.1" class="s2">I</text>
<line x1="454" y1="244.8" x2="466" y2="244.8"/>
<path d="M474.2 244.8 L470.08 244.45 L468.52 243.45 L466.36 243.45 L464.4 243.86 L464.4 245.75 L466.36 246.15 L468.52 246.15 L470.08 245.15 Z" stroke-width="0.5" fill="#000"/>
<text x="317" y="249.1" font-size="9.1" textLength="51.6" class="s2">(T)  FROM</text>
<text x="317" y="260" font-size="9.1" textLength="49.5" class="s2">PROCESS</text>
<text x="317" y="281.7" font-size="9.1" textLength="80.5" class="s2">TEMP  SENSOR</text>
<text x="317" y="293.3" font-size="9.1" textLength="49.3" class="s2">LOCATION</text>
<text x="503.6" y="280.8" font-size="9.1" textLength="34.4" class="s2">(T)  TO</text>
<text x="503.6" y="291.6" font-size="9.1" textLength="49.4" class="s2">PROCESS</text>
<text x="114.7" y="332.5" font-size="9.1" textLength="37.2" class="s2">(U)  TO</text>
<text x="104.3" y="343.2" font-size="9.1" textLength="64.3" class="s2">TOWER/CITY</text>
<text x="104.3" y="354.1" font-size="9.1" textLength="83.3" class="s2">W/O  MANIFOLD</text>
<text x="104.3" y="414.3" font-size="9.1" textLength="45.5" class="s2">(U)FROM</text>
<text x="104.3" y="424.8" font-size="9.1" textLength="64.3" class="s2">TOWER/CITY</text>
<text x="104.3" y="435.8" font-size="9.1" textLength="83.3" class="s2">W/O  MANIFOLD</text>
<text x="484.3" y="372.3" font-size="9.1" textLength="67.2" class="s2">EVAPORATOR</text>
<text x="484.3" y="395" font-size="9.1" textLength="71.8" class="s2">COMPRESSOR</text>
<text x="484.3" y="418" font-size="9.1" textLength="63.5" class="s2">CONDENSER</text>
<rect x="482" y="417.3" width="70" height="3" fill="#fff" stroke="none"/>
<path d="M313.5 245 L303.5 245 L263 288.5"/>
<path d="M262.2 289.5 L265.26 286.72 L267.06 286.25 L268.52 284.67 L269.56 282.96 L268.17 281.67 L266.54 282.84 L265.08 284.42 L264.74 286.25 Z" stroke-width="0.5" fill="#000"/>
<path d="M311 276.5 L300.5 276.5 L263.5 303"/>
<path d="M262.8 303.6 L266.35 301.48 L268.2 301.38 L269.95 300.12 L271.31 298.65 L270.21 297.11 L268.38 297.93 L266.63 299.19 L265.94 300.91 Z" stroke-width="0.5" fill="#000"/>
<path d="M488 276.3 L418 289.6"/>
<path d="M417.2 289.8 L421.89 289.26 L423.83 289.91 L426.25 289.45 L428.38 288.63 L428.02 286.77 L425.75 286.8 L423.33 287.26 L421.76 288.58 Z" stroke-width="0.5" fill="#000"/>
<path d="M159.2 328.4 L168.6 328.4 L218.5 357.2"/>
<path d="M219.2 357.6 L215.81 355.24 L214.95 353.59 L213.08 352.51 L211.18 351.88 L210.24 353.52 L211.73 354.85 L213.6 355.93 L215.46 355.85 Z" stroke-width="0.5" fill="#000"/>
<path d="M159.2 410.6 L168.6 410.6 L267 390.2"/>
<path d="M268 390 L262.75 390.73 L260.57 390.16 L257.86 390.72 L255.47 391.63 L255.85 393.48 L258.4 393.37 L261.12 392.8 L262.89 391.42 Z" stroke-width="0.5" fill="#000"/>
<path d="M472.3 368.6 L462.8 368.6 L426.5 351"/>
<path d="M425.9 350.6 L429.45 352.72 L430.42 354.31 L432.35 355.25 L434.29 355.75 L435.12 354.05 L433.54 352.82 L431.6 351.88 L429.75 352.09 Z" stroke-width="0.5" fill="#000"/>
<path d="M472.3 391.2 L463.9 391.2 L363.2 354.2"/>
<path d="M472.3 414.3 L462.8 414.3 L397.6 390"/>
<path d="M397 389.7 L400.73 391.47 L401.85 392.95 L403.87 393.71 L405.85 394.02 L406.51 392.25 L404.82 391.18 L402.8 390.43 L400.98 390.81 Z" stroke-width="0.5" fill="#000"/>
</g>
<g stroke-width="1.5">
<rect x="253.4" y="290.7" width="8.3" height="25.8"/>
<rect x="252.2" y="316.5" width="11.3" height="6.3"/>
<circle cx="257.5" cy="298.9" r="3"/>
<ellipse cx="252.8" cy="303.2" rx="1.5" ry="1.1" stroke-width="0.6" fill="#000"/>
<ellipse cx="252.4" cy="311.5" rx="1.5" ry="1.1" stroke-width="0.6" fill="#000"/>
<ellipse cx="257.5" cy="311.5" rx="1.5" ry="1.1" stroke-width="0.6" fill="#000"/>
<ellipse cx="257.5" cy="320.8" rx="1.5" ry="1.1" stroke-width="0.6" fill="#000"/>
<ellipse cx="257.5" cy="335.2" rx="1.5" ry="1.1" stroke-width="0.6" fill="#000"/>
<rect x="243" y="318.4" width="3.6" height="33.3" rx="1.5"/>
<path d="M243 323.5 Q237 335 243 346.5"/>
<line x1="246.6" y1="322.8" x2="263" y2="322.8"/>
<line x1="269" y1="322.8" x2="285" y2="322.8"/>
<line x1="246.6" y1="346.3" x2="251" y2="346.3"/>
<line x1="261" y1="346.3" x2="285" y2="346.3"/>
<rect x="285" y="307.3" width="14.8" height="5.3" stroke-width="1.44"/>
<circle cx="287.7" cy="310" r="1.6"/>
<circle cx="297.1" cy="310" r="1.6"/>
<line x1="285" y1="307.3" x2="285" y2="377.5" stroke-width="1.44"/>
<line x1="299.8" y1="307.3" x2="299.8" y2="377.5" stroke-width="1.44"/>
<rect x="369.3" y="307.3" width="14.8" height="5.3" stroke-width="1.44"/>
<circle cx="372" cy="310" r="1.6"/>
<circle cx="381.4" cy="310" r="1.6"/>
<line x1="369.3" y1="307.3" x2="369.3" y2="377.5" stroke-width="1.44"/>
<line x1="384.1" y1="307.3" x2="384.1" y2="377.5" stroke-width="1.44"/>
<line x1="290" y1="312.6" x2="290" y2="337" stroke-width="1.08"/>
<line x1="290" y1="343.5" x2="290" y2="371.7" stroke-width="1.08"/>
<line x1="290" y1="377.5" x2="290" y2="398" stroke-width="1.08"/>
<line x1="294.8" y1="312.6" x2="294.8" y2="337" stroke-width="1.08"/>
<line x1="294.8" y1="343.5" x2="294.8" y2="371.7" stroke-width="1.08"/>
<line x1="294.8" y1="377.5" x2="294.8" y2="398" stroke-width="1.08"/>
<line x1="374.3" y1="312.6" x2="374.3" y2="337" stroke-width="1.08"/>
<line x1="374.3" y1="343.5" x2="374.3" y2="371.7" stroke-width="1.08"/>
<line x1="374.3" y1="377.5" x2="374.3" y2="398" stroke-width="1.08"/>
<line x1="378.8" y1="312.6" x2="378.8" y2="337" stroke-width="1.08"/>
<line x1="378.8" y1="343.5" x2="378.8" y2="371.7" stroke-width="1.08"/>
<line x1="378.8" y1="377.5" x2="378.8" y2="398" stroke-width="1.08"/>
<rect x="299.8" y="314.1" width="69.5" height="5.4" stroke-width="1.44"/>
<line x1="299.8" y1="322.9" x2="321.5" y2="322.9"/>
<line x1="346.7" y1="322.9" x2="369.3" y2="322.9"/>
<line x1="384" y1="322.4" x2="474.3" y2="322.4" stroke-width="1.44"/>
<line x1="347" y1="325.6" x2="369.3" y2="325.6"/>
<line x1="384" y1="325.3" x2="470" y2="325.3"/>
<line x1="299.8" y1="346.3" x2="321.5" y2="346.3"/>
<line x1="363" y1="346.3" x2="369.3" y2="346.3"/>
<line x1="384" y1="346.2" x2="419" y2="346.2"/>
<rect x="285" y="337.1" width="99" height="6.3" stroke-width="1.44" fill="#fff"/>
<rect x="285" y="371.7" width="99" height="5.7" stroke-width="1.44" fill="#fff"/>
<rect x="295.4" y="350.3" width="3.4" height="20.1"/>
<rect x="369.8" y="349.5" width="3.8" height="20.9"/>
<line x1="371.7" y1="352" x2="371.7" y2="368" stroke-width="2.4" stroke-dasharray="5 2"/>
<rect x="321.5" y="319.5" width="25.2" height="14.5"/>
<circle cx="334.2" cy="323.9" r="3.6" stroke-width="1.44"/>
<rect x="325.5" y="320.5" width="4" height="6" fill="#000"/>
<rect x="340" y="320.5" width="3" height="6.5" fill="#000"/>
<line x1="321.5" y1="328" x2="346.7" y2="328"/>
<rect x="321.5" y="334" width="17.6" height="13.8" fill="#fff"/>
<rect x="323" y="344" width="15" height="3.4" fill="#000"/>
<rect x="317.5" y="338.4" width="4.5" height="5" fill="#fff"/>
<circle cx="319.8" cy="340.9" r="1.2"/>
<rect x="339.1" y="337.1" width="23.9" height="17" stroke-width="1.56" fill="#fff"/>
<line x1="344.2" y1="337.1" x2="344.2" y2="354.1"/>
<line x1="321.5" y1="347.8" x2="321.5" y2="356"/>
<rect x="309.6" y="355.3" width="11.3" height="18.9" rx="5"/>
<rect x="327.8" y="354.3" width="13.8" height="19.9" rx="6"/>
<rect x="348.6" y="355.3" width="11.3" height="18.9" rx="5"/>
<path d="M321.5 356 Q326 364.5 321.5 374"/>
<path d="M346.2 356 Q342 364.5 346.2 374"/>
<path d="M325.5 356 Q322.5 364.5 325.5 374"/>
<path d="M343.5 356 Q346.5 364.5 343.5 374"/>
<line x1="317.7" y1="376" x2="355.5" y2="376" stroke-width="1.8"/>
<line x1="359.9" y1="355.5" x2="369.3" y2="360"/>
<ellipse cx="327.8" cy="384.6" rx="3" ry="1.8" fill="#000"/>
<line x1="327.8" y1="378" x2="327.8" y2="384"/>
<line x1="331" y1="381.5" x2="340" y2="378.5" stroke-width="1.8"/>
<line x1="276.7" y1="377.4" x2="285" y2="377.4" stroke-width="1.44"/>
<line x1="384" y1="377.4" x2="392.5" y2="377.4" stroke-width="1.44"/>
<rect x="272.4" y="377.4" width="4.3" height="24.8" stroke-width="1.92"/>
<line x1="276.7" y1="402.2" x2="290" y2="402.2" stroke-width="1.44"/>
<rect x="392.5" y="377.4" width="4.1" height="24.4" stroke-width="1.92"/>
<line x1="379.2" y1="401.8" x2="392.5" y2="401.8" stroke-width="1.44"/>
<line x1="379.2" y1="377.4" x2="379.2" y2="421" stroke-width="1.44"/>
<circle cx="386.2" cy="389.6" r="2.6"/>
<line x1="373.6" y1="379" x2="373.6" y2="399" stroke-dasharray="6 2 2 2"/>
<ellipse cx="282" cy="389.6" rx="0.8" ry="0.8" fill="#000"/>
<line x1="289.3" y1="398.2" x2="289.3" y2="421" stroke-width="1.44"/>
<line x1="289.3" y1="399" x2="379.2" y2="399" stroke-width="1.68"/>
<line x1="289.3" y1="421" x2="379.2" y2="421" stroke-width="1.68"/>
<path d="M291 421 L292.5 423.6 L376.7 423.6 L378 421" stroke-width="1.44"/>
<rect x="285" y="402.8" width="4.3" height="5.7"/>
<rect x="379.2" y="403" width="4.1" height="5.5"/>
<rect x="218.8" y="356.9" width="17.6" height="5" rx="1.5" stroke-width="1.68"/>
<line x1="223.3" y1="362" x2="223.3" y2="372.6" stroke-width="1.56"/>
<line x1="232.5" y1="362" x2="232.5" y2="372.6" stroke-width="1.56"/>
<line x1="225.5" y1="360" x2="230.5" y2="360" stroke-width="1.44"/>
<rect x="218.8" y="372.6" width="17.6" height="4.6" rx="1.5" stroke-width="1.68"/>
<path d="M222.6 377.2 V388.5 Q222.6 394.6 228.6 394.6 Q233.9 394.6 233.9 393.4 V377.2" stroke-width="1.56"/>
<path d="M224 384.5 Q228 381.5 232.5 384.5"/>
<line x1="233.9" y1="386.5" x2="267.9" y2="386.5" stroke-width="1.44"/>
<line x1="233.9" y1="393.4" x2="267.9" y2="393.4" stroke-width="1.44"/>
<rect x="267.9" y="385.8" width="4.5" height="8.2"/>
<rect x="408.2" y="289.9" width="8.8" height="26"/>
<rect x="407.4" y="315.9" width="10.9" height="6.3"/>
<ellipse cx="412.6" cy="302.7" rx="1.4" ry="1.1" stroke-width="0.6" fill="#000"/>
<ellipse cx="412.6" cy="311.3" rx="1.4" ry="1.1" stroke-width="0.6" fill="#000"/>
<ellipse cx="418.3" cy="311.3" rx="1.4" ry="1.1" stroke-width="0.6" fill="#000"/>
<ellipse cx="412.6" cy="320.3" rx="1.4" ry="1.1" stroke-width="0.6" fill="#000"/>
<ellipse cx="418.6" cy="297.9" rx="3.4" ry="3"/>
<rect x="422" y="295.6" width="4.5" height="4.8" fill="#000"/>
<rect x="426.5" y="294.9" width="9.4" height="6.5" rx="2.2"/>
<line x1="430.5" y1="295" x2="430.5" y2="301.4"/>
<rect x="422.5" y="317.8" width="3.3" height="4.4"/>
<rect x="422.5" y="322.2" width="3.3" height="28.3" stroke-width="1.56"/>
<line x1="425.8" y1="348" x2="430.3" y2="339.8"/>
<rect x="460.4" y="322.4" width="14.1" height="18" rx="3"/>
<rect x="430.3" y="329.1" width="17.6" height="5.1"/>
<rect x="430.3" y="335.4" width="17.6" height="4.8"/>
<rect x="447.9" y="329.6" width="2.6" height="10.2"/>
<line x1="450.5" y1="329.3" x2="468" y2="329.3"/>
<line x1="450.5" y1="340.2" x2="466" y2="340.2"/>
<line x1="451" y1="334.7" x2="468" y2="334.7" stroke-dasharray="5 2 2 2"/>
<rect x="462" y="323.5" width="8" height="3.5"/>
<line x1="466" y1="323.5" x2="466" y2="327"/>
<path d="M466 334 Q471.5 334 471.5 337 Q471.5 340 466 340"/>
<ellipse cx="436.5" cy="331.7" rx="0.7" ry="0.7" fill="#000"/>
<ellipse cx="436.5" cy="337.8" rx="0.7" ry="0.7" fill="#000"/>
</g>
</g>
<g id="left">
<g stroke-width="1.1">
<line x1="222" y1="484" x2="311" y2="484" stroke-width="1.4"/>
<line x1="222" y1="479.6" x2="311" y2="479.6"/>
<path d="M222.5 484 L224.7 479.6 M225.1 484 L227.3 479.6 M227.7 484 L229.9 479.6 M230.3 484 L232.5 479.6 M232.9 484 L235.1 479.6 M235.5 484 L237.7 479.6 M238.1 484 L240.3 479.6 M240.7 484 L242.9 479.6 M243.3 484 L245.5 479.6 M245.9 484 L248.1 479.6 M248.5 484 L250.7 479.6 M251.1 484 L253.3 479.6 M253.7 484 L255.9 479.6 M256.3 484 L258.5 479.6 M258.9 484 L261.1 479.6 M261.5 484 L263.7 479.6 M264.1 484 L266.3 479.6 M266.7 484 L268.9 479.6 M269.3 484 L271.5 479.6 M271.9 484 L274.1 479.6 M274.5 484 L276.7 479.6 M277.1 484 L279.3 479.6 M279.7 484 L281.9 479.6 M282.3 484 L284.5 479.6 M284.9 484 L287.1 479.6 M287.5 484 L289.7 479.6 M290.1 484 L292.3 479.6 M292.7 484 L294.9 479.6 M295.3 484 L297.5 479.6 M297.9 484 L300.1 479.6 M300.5 484 L302.7 479.6 M303.1 484 L305.3 479.6 M305.7 484 L307.9 479.6 M308.3 484 L310.5 479.6" stroke-width="1.1"/>
<line x1="271.5" y1="467.5" x2="271.5" y2="479"/>
<path d="M271.5 480 L271.85 476.47 L272.85 475.13 L272.85 473.28 L272.44 471.6 L270.56 471.6 L270.15 473.28 L270.15 475.13 L271.15 476.47 Z" stroke-width="0.5" fill="#000"/>
<text x="266.6" y="496.2" font-size="10" class="s2">O</text>
<text x="195.4" y="510.9" font-size="10" textLength="149.8" class="s2">RECOMMENDED  CLEARANCE</text>
<path d="M271.5 519 L271.15 522.53 L270.15 523.87 L270.15 525.72 L270.56 527.4 L272.44 527.4 L272.85 525.72 L272.85 523.87 L271.85 522.53 Z" stroke-width="0.5" fill="#000"/>
<line x1="271.5" y1="519" x2="271.5" y2="537.5" stroke-dasharray="8 2.5"/>
<line x1="268.5" y1="519.2" x2="270" y2="519.2"/>
<line x1="277" y1="518.8" x2="281" y2="518.8"/>
<text x="220" y="551" font-size="10" textLength="37" lengthAdjust="spacingAndGlyphs" class="s2">SAFETY</text>
<text x="220" y="562.3" font-size="10" textLength="33.5" lengthAdjust="spacingAndGlyphs" class="s2">RELIEF</text>
<text x="220" y="573.7" font-size="10" textLength="29.5" lengthAdjust="spacingAndGlyphs" class="s2">VALVE</text>
<text x="129" y="565.4" font-size="10" textLength="62.3" class="s2">COND  WTR</text>
<text x="129" y="576.3" font-size="10" textLength="50.8" class="s2">REG  VLV</text>
<text x="424.8" y="496" font-size="10" textLength="81" class="s2">RECOMMENDED</text>
<text x="424.8" y="507.3" font-size="10" textLength="60.5" lengthAdjust="spacingAndGlyphs" class="s2">ELECTRICAL</text>
<text x="424.8" y="518.7" font-size="10" textLength="42.5" lengthAdjust="spacingAndGlyphs" class="s2">SERVICE</text>
<text x="424.8" y="530" font-size="10" textLength="66.6" lengthAdjust="spacingAndGlyphs" class="s2">CONNECTION</text>
<text x="316.6" y="673.2" font-size="10" textLength="37.7" class="s2">33 500</text>
<text x="286.4" y="684.5" font-size="10" textLength="97" class="s2">MOUNTING  HOLES</text>
<text x="165" y="618.7" font-size="8.6" class="s2">M</text>
<text x="139.8" y="641" font-size="8.6" class="s2">N</text>
<text x="192.6" y="682.6" font-size="10" class="s2">S</text>
<text x="156.2" y="694.4" font-size="10" textLength="81" class="s2">RECOMMENDED</text>
<text x="166" y="705.7" font-size="10" textLength="59.8" lengthAdjust="spacingAndGlyphs" class="s2">CLEARANCE</text>
<text x="157" y="716.9" font-size="10" textLength="79.7" class="s2">FOR  CLEANING</text>
<text x="141.3" y="728.6" font-size="10" textLength="111" class="s2">CONDENSING  TUBES</text>
<text x="160.4" y="739.9" font-size="10" textLength="73.4" class="s2">(BOTH  ENDS)</text>
<path d="M198.5 559.5 L207 559.5 L225.6 586"/>
<path d="M224.5 584.5 L222.76 581.41 L222.81 579.73 L221.75 578.22 L220.46 577.08 L218.91 578.16 L219.54 579.77 L220.6 581.28 L222.19 581.81 Z" stroke-width="0.5" fill="#000"/>
<path d="M263.5 547 L272 547 L281.6 609.5"/>
<path d="M281.8 610.6 L281.52 606.48 L282.27 604.78 L281.94 602.65 L281.24 600.77 L279.37 601.06 L279.27 603.06 L279.6 605.19 L280.83 606.59 Z" stroke-width="0.5" fill="#000"/>
<path d="M418.5 492 Q412 492 408.4 494 L373.5 517.8"/>
<path d="M372.6 518.5 L376.19 516.46 L378.05 516.4 L379.83 515.19 L381.22 513.75 L380.15 512.19 L378.31 512.96 L376.53 514.18 L375.8 515.89 Z" stroke-width="0.5" fill="#000"/>
<line x1="408.4" y1="494" x2="380" y2="527"/>
<path d="M379.5 527.6 L382.45 524.71 L384.23 524.17 L385.64 522.54 L386.61 520.79 L385.17 519.55 L383.59 520.78 L382.18 522.41 L381.92 524.25 Z" stroke-width="0.5" fill="#000"/>
<line x1="122.6" y1="567.5" x2="122.6" y2="648.7" stroke-width="1.2"/>
<line x1="117.7" y1="567.5" x2="117.7" y2="648.7"/>
<line x1="122.6" y1="654.4" x2="122.6" y2="684.5" stroke-width="1.1"/>
<path d="M117.7 570.1 L122.6 567.5 M117.7 572.8 L122.6 570.2 M117.7 575.5 L122.6 572.9 M117.7 578.2 L122.6 575.6 M117.7 580.9 L122.6 578.3 M117.7 583.6 L122.6 581 M117.7 586.3 L122.6 583.7 M117.7 589 L122.6 586.4 M117.7 591.7 L122.6 589.1 M117.7 594.4 L122.6 591.8 M117.7 597.1 L122.6 594.5 M117.7 599.8 L122.6 597.2 M117.7 602.5 L122.6 599.9 M117.7 605.2 L122.6 602.6 M117.7 607.9 L122.6 605.3 M117.7 610.6 L122.6 608 M117.7 613.3 L122.6 610.7 M117.7 616 L122.6 613.4 M117.7 618.7 L122.6 616.1 M117.7 621.4 L122.6 618.8 M117.7 624.1 L122.6 621.5 M117.7 626.8 L122.6 624.2 M117.7 629.5 L122.6 626.9 M117.7 632.2 L122.6 629.6 M117.7 634.9 L122.6 632.3 M117.7 637.6 L122.6 635 M117.7 640.3 L122.6 637.7 M117.7 643 L122.6 640.4 M117.7 645.7 L122.6 643.1 M117.7 648.4 L122.6 645.8" stroke-width="1.1"/>
<line x1="164" y1="601" x2="219" y2="601"/>
<line x1="138.8" y1="628.6" x2="262" y2="628.6"/>
<line x1="138.8" y1="646.3" x2="279.5" y2="646.3" stroke-width="1.2"/>
<line x1="167.5" y1="583.5" x2="167.5" y2="595"/>
<path d="M167.5 601 L167.85 597.18 L168.85 595.72 L168.85 593.72 L168.44 591.9 L166.56 591.9 L166.15 593.72 L166.15 595.72 L167.15 597.18 Z" stroke-width="0.5" fill="#000"/>
<line x1="167.5" y1="634" x2="167.5" y2="646"/>
<path d="M167.5 628.8 L167.15 632.62 L166.15 634.08 L166.15 636.08 L166.56 637.9 L168.44 637.9 L168.85 636.08 L168.85 634.08 L167.85 632.62 Z" stroke-width="0.5" fill="#000"/>
<line x1="143" y1="611" x2="143" y2="623"/>
<path d="M143 628.5 L143.35 624.68 L144.35 623.22 L144.35 621.22 L143.94 619.4 L142.06 619.4 L141.65 621.22 L141.65 623.22 L142.65 624.68 Z" stroke-width="0.5" fill="#000"/>
<line x1="143" y1="652" x2="143" y2="663.5"/>
<path d="M143 646.5 L142.65 650.32 L141.65 651.78 L141.65 653.78 L142.06 655.6 L143.94 655.6 L144.35 653.78 L144.35 651.78 L143.35 650.32 Z" stroke-width="0.5" fill="#000"/>
<path d="M122.8 679.5 L128.09 679.85 L130.11 680.85 L132.88 680.85 L135.4 680.45 L135.4 678.55 L132.88 678.15 L130.11 678.15 L128.09 679.15 Z" stroke-width="0.5" fill="#000"/>
<line x1="130" y1="679.5" x2="181.5" y2="679.5"/>
<line x1="207" y1="679.5" x2="260" y2="679.5"/>
<path d="M267.6 679.5 L262.31 679.15 L260.29 678.15 L257.52 678.15 L255 678.55 L255 680.45 L257.52 680.85 L260.29 680.85 L262.31 679.85 Z" stroke-width="0.5" fill="#000"/>
<line x1="267.8" y1="636" x2="267.8" y2="684.5" stroke-dasharray="9 2 3 2"/>
<line x1="246" y1="636" x2="267.8" y2="636" stroke-dasharray="7 2 4 2"/>
<line x1="292.7" y1="647" x2="292.7" y2="673.5"/>
<line x1="375.6" y1="647" x2="375.6" y2="673.5" stroke-dasharray="9 2.5 14 0"/>
<path d="M292.9 669.4 L297.6 669.75 L299.4 670.75 L301.86 670.75 L304.1 670.35 L304.1 668.45 L301.86 668.05 L299.4 668.05 L297.6 669.05 Z" stroke-width="0.5" fill="#000"/>
<line x1="300" y1="669.4" x2="305.5" y2="669.4"/>
<line x1="357" y1="669.4" x2="368" y2="669.4"/>
<path d="M375.4 669.4 L370.7 669.05 L368.9 668.05 L366.44 668.05 L364.2 668.45 L364.2 670.35 L366.44 670.75 L368.9 670.75 L370.7 669.75 Z" stroke-width="0.5" fill="#000"/>
</g>
<g stroke-width="1.5">
<rect x="288.9" y="518.7" width="89.7" height="68.6" stroke-width="1.56"/>
<rect x="291.9" y="521.7" width="84" height="62.8" stroke-width="0.84"/>
<line x1="290.2" y1="524" x2="290.2" y2="584" stroke-width="1.8" stroke-dasharray="6 1.5"/>
<rect x="298.9" y="532.4" width="35.8" height="24.4" rx="1.5" stroke-width="1.8"/>
<ellipse cx="315.6" cy="539.8" rx="3.2" ry="2.6" stroke-width="2.28"/>
<path d="M313.5 537 L319.6 536.6 L319.8 541.5" stroke-width="2.16"/>
<rect x="312.1" y="547.1" width="8.8" height="8.9" stroke-width="1.44"/>
<line x1="323.4" y1="551" x2="334.3" y2="551" stroke-width="2.16"/>
<ellipse cx="305.8" cy="551" rx="0.7" ry="0.7" fill="#000"/>
<line x1="370" y1="550.5" x2="370" y2="561.5" stroke-width="2.88"/>
<circle cx="292" cy="589.5" r="1.5"/>
<circle cx="376.3" cy="589.5" r="1.5"/>
<line x1="294.5" y1="587.4" x2="294.5" y2="610.8" stroke-width="1.44"/>
<line x1="299.5" y1="587.4" x2="299.5" y2="610.8" stroke-width="1.44"/>
<line x1="368.8" y1="587.4" x2="368.8" y2="610.8" stroke-width="1.44"/>
<line x1="374.3" y1="591" x2="374.3" y2="610.8" stroke-width="1.44"/>
<path d="M378.7 546.6 H396.5 Q399.4 546.6 399.4 549.5 V594 Q399.4 596.7 402.5 596.7 H455 Q460.8 596.7 460.8 602.5 V613.4" stroke-width="1.44"/>
<path d="M378.7 550.4 H393.2 Q395.2 550.4 395.2 552.4 V596 Q395.2 600.4 399.6 600.4 H454.5 Q456.8 600.4 456.8 603 V613.4" stroke-width="1.44"/>
<rect x="456.2" y="613.4" width="17.6" height="12.6" rx="2" stroke-width="1.56"/>
<line x1="456.2" y1="617.5" x2="473.8" y2="617.5"/>
<line x1="456.2" y1="622" x2="473.8" y2="622"/>
<line x1="461" y1="613.4" x2="461" y2="626"/>
<line x1="465.5" y1="613.4" x2="465.5" y2="626"/>
<line x1="470" y1="613.4" x2="470" y2="626"/>
<rect x="462" y="618" width="7" height="3.5" stroke-width="0.12" fill="#fff"/>
<line x1="259" y1="611.2" x2="268" y2="611.2" stroke-dasharray="3 2"/>
<line x1="272.3" y1="611" x2="422.2" y2="611" stroke-width="1.68"/>
<line x1="276" y1="636.2" x2="285.5" y2="636.2" stroke-width="1.56"/>
<line x1="300" y1="636.2" x2="368" y2="636.2" stroke-width="1.56"/>
<line x1="383" y1="636.2" x2="422.2" y2="636.2" stroke-width="1.56"/>
<rect x="272.3" y="611.4" width="3.9" height="25.3" stroke-width="1.68"/>
<rect x="267.3" y="614" width="5" height="8.8"/>
<rect x="267.3" y="624.6" width="5" height="8.4"/>
<line x1="392.6" y1="611" x2="392.6" y2="636.2" stroke-width="1.56"/>
<line x1="395.8" y1="611" x2="395.8" y2="636.2" stroke-width="1.56"/>
<rect x="422.2" y="606.5" width="3.5" height="34.6" rx="1.5" stroke-width="1.56"/>
<path d="M425.7 613.4 Q434.5 624 425.7 634.2" stroke-width="1.44"/>
<path d="M427.5 612.8 H441 Q445 613.6 447 614.6 H456" stroke-width="1.32"/>
<path d="M429.5 618.4 H441 Q445 617.6 447 616.6 H456" stroke-width="1.32"/>
<path d="M428.8 630.4 H443.4 Q444.9 630.4 444.9 631.8 Q444.9 633.2 443.4 633.2 H427" stroke-width="1.32"/>
<rect x="383.2" y="606.5" width="5.6" height="4.5" rx="1"/>
<rect x="285.5" y="637.6" width="14.6" height="8.7" stroke-width="1.8"/>
<path d="M290.1 637.6 V635.8 Q292.8 632.8 295.5 635.8 V637.6"/>
<rect x="368" y="637.6" width="14.6" height="8.7" stroke-width="1.8"/>
<path d="M372.6 637.6 V635.8 Q375.3 632.8 378 635.8 V637.6"/>
<line x1="300" y1="639.2" x2="368" y2="639.2"/>
<line x1="300" y1="643" x2="368" y2="643"/>
<rect x="223.9" y="585.7" width="8.8" height="7.6" fill="#000"/>
<circle cx="227.9" cy="601" r="8.6" stroke-width="1.56"/>
<path d="M223.5 613.5 V599.5 Q223.5 595.5 227.9 595.5 Q232 595.5 232 599.5 V613.5" stroke-width="1.44"/>
<rect x="222.6" y="613.4" width="11.4" height="10" rx="3" stroke-width="1.56"/>
<rect x="242.1" y="607.1" width="3.4" height="34.6" rx="1.2"/>
<rect x="234" y="615.6" width="33.3" height="6.6" stroke-width="1.44" fill="#fff"/>
<path d="M237.8 622.5 L242.1 635.5"/>
<line x1="241" y1="611.3" x2="247" y2="611.3"/>
</g>
</g>
<g id="right">
<g stroke-width="1.1">
<text x="500.6" y="462.2" font-size="10" textLength="149" class="s2">RECOMMENDED  CLEARANCE</text>
<text x="536.5" y="473.3" font-size="10" textLength="76.8" class="s2">FOR  CONTROL</text>
<text x="545.8" y="484.9" font-size="10" textLength="59.4" class="s2">BOX  DOOR</text>
<text x="573.8" y="495.4" font-size="10" class="s2">R</text>
<text x="642.2" y="508.5" font-size="10" textLength="58.6" class="s2">B  OVERALL</text>
<text x="536.4" y="611.2" font-size="10" textLength="60.3" class="s2">C  OVERALL</text>
<text x="792.6" y="581.4" font-size="10" textLength="64.5" class="s2">FREEZESTAT</text>
<rect x="790" y="571" width="72" height="3.7" fill="#fff" stroke="none"/>
<text x="792.6" y="592.3" font-size="10" textLength="73.6" lengthAdjust="spacingAndGlyphs" class="s2">FLOW  SWITCH</text>
<text x="800.2" y="639.3" font-size="10" class="s2">E</text>
<text x="664.6" y="666" font-size="10" class="s2">D</text>
<text x="650.4" y="684.4" font-size="10" textLength="37.3" class="s2">46 000</text>
<text x="590.6" y="696.5" font-size="10" textLength="156.7" class="s2">3/4&quot;  DIA  MOUNTING  HOLES</text>
<line x1="549.9" y1="489" x2="549.9" y2="511"/>
<line x1="601.4" y1="489" x2="601.4" y2="515.5" stroke-width="1.2"/>
<path d="M550.1 492.4 L554.22 492.75 L555.78 493.75 L557.94 493.75 L559.9 493.34 L559.9 491.45 L557.94 491.05 L555.78 491.05 L554.22 492.05 Z" stroke-width="0.5" fill="#000"/>
<line x1="556" y1="492.4" x2="562" y2="492.4"/>
<line x1="588.5" y1="492.4" x2="594" y2="492.4"/>
<path d="M601.2 492.4 L597.08 492.05 L595.52 491.05 L593.36 491.05 L591.4 491.45 L591.4 493.34 L593.36 493.75 L595.52 493.75 L597.08 492.75 Z" stroke-width="0.5" fill="#000"/>
<path d="M601.6 505 L606.3 505.35 L608.1 506.35 L610.56 506.35 L612.8 505.94 L612.8 504.06 L610.56 503.65 L608.1 503.65 L606.3 504.65 Z" stroke-width="0.5" fill="#000"/>
<line x1="608" y1="505" x2="632" y2="505"/>
<line x1="711.5" y1="505" x2="716.5" y2="505" stroke-dasharray="2 1.5"/>
<line x1="732" y1="505" x2="737" y2="505"/>
<path d="M744.8 505 L740.68 504.65 L739.12 503.65 L736.96 503.65 L735 504.06 L735 505.94 L736.96 506.35 L739.12 506.35 L740.68 505.35 Z" stroke-width="0.5" fill="#000"/>
<line x1="745" y1="501" x2="745" y2="612" stroke-width="1.3" stroke-dasharray="40 1.5 30 1.5"/>
<line x1="561.5" y1="518.2" x2="598" y2="518.2" stroke-width="1.2"/>
<line x1="562" y1="644.8" x2="603" y2="644.8" stroke-width="1.2"/>
<line x1="566.2" y1="523" x2="566.2" y2="602"/>
<line x1="566.2" y1="615" x2="566.2" y2="640"/>
<path d="M566.2 518.6 L565.85 522.72 L564.85 524.28 L564.85 526.44 L565.25 528.4 L567.15 528.4 L567.55 526.44 L567.55 524.28 L566.55 522.72 Z" stroke-width="0.5" fill="#000"/>
<path d="M566.2 644.4 L566.55 640.28 L567.55 638.72 L567.55 636.56 L567.15 634.6 L565.25 634.6 L564.85 636.56 L564.85 638.72 L565.85 640.28 Z" stroke-width="0.5" fill="#000"/>
<path d="M786 577.6 L778.5 577.6 L736.5 605.3"/>
<path d="M735.6 605.9 L739.23 603.93 L741.09 603.9 L742.89 602.71 L744.3 601.29 L743.26 599.71 L741.4 600.46 L739.6 601.64 L738.84 603.34 Z" stroke-width="0.5" fill="#000"/>
<line x1="797.3" y1="605.8" x2="797.3" y2="617"/>
<path d="M797.3 622.4 L797.65 618.87 L798.65 617.53 L798.65 615.68 L798.25 614 L796.35 614 L795.95 615.68 L795.95 617.53 L796.95 618.87 Z" stroke-width="0.5" fill="#000"/>
<line x1="755" y1="622.9" x2="780" y2="622.9" stroke-dasharray="2.5 2"/>
<line x1="780" y1="622.9" x2="801.5" y2="622.9" stroke-dasharray="12 2 3 2"/>
<line x1="732.2" y1="645.6" x2="801.5" y2="645.6" stroke-width="1.2"/>
<path d="M797.3 646 L796.95 649.82 L795.95 651.28 L795.95 653.28 L796.35 655.1 L798.25 655.1 L798.65 653.28 L798.65 651.28 L797.65 649.82 Z" stroke-width="0.5" fill="#000"/>
<line x1="797.3" y1="651" x2="797.3" y2="661.5"/>
<line x1="580" y1="645.6" x2="602.6" y2="645.6" stroke-width="1.2"/>
<line x1="638.6" y1="646.5" x2="638.6" y2="666" stroke-width="1.2"/>
<line x1="697" y1="646.5" x2="697" y2="666" stroke-width="1.2"/>
<path d="M638.8 663 L642.92 663.35 L644.48 664.35 L646.64 664.35 L648.6 663.95 L648.6 662.05 L646.64 661.65 L644.48 661.65 L642.92 662.65 Z" stroke-width="0.5" fill="#000"/>
<line x1="645" y1="663" x2="648" y2="663"/>
<line x1="651" y1="663" x2="654" y2="663"/>
<line x1="682" y1="663" x2="685" y2="663"/>
<line x1="687" y1="663" x2="690" y2="663"/>
<path d="M696.8 663 L692.68 662.65 L691.12 661.65 L688.96 661.65 L687 662.05 L687 663.95 L688.96 664.35 L691.12 664.35 L692.68 663.35 Z" stroke-width="0.5" fill="#000"/>
<line x1="610.6" y1="653" x2="610.6" y2="684.5" stroke-width="1.2"/>
<line x1="724" y1="653" x2="724" y2="684.5" stroke-width="1.2"/>
<path d="M610.8 681 L615.5 681.35 L617.3 682.35 L619.76 682.35 L622 681.95 L622 680.05 L619.76 679.65 L617.3 679.65 L615.5 680.65 Z" stroke-width="0.5" fill="#000"/>
<line x1="618" y1="681" x2="639" y2="681"/>
<line x1="696" y1="681" x2="716" y2="681"/>
<path d="M723.8 681 L719.1 680.65 L717.3 679.65 L714.84 679.65 L712.6 680.05 L712.6 681.95 L714.84 682.35 L717.3 682.35 L719.1 681.35 Z" stroke-width="0.5" fill="#000"/>
</g>
<g stroke-width="1.5">
<path d="M601 586.6 V520.2 Q601 518.1 603.2 518.1 H626.8 Q628.9 518.1 628.9 520.2 V586.6" stroke-width="1.56"/>
<line x1="603.9" y1="520" x2="603.9" y2="586" stroke-width="1.56" stroke-dasharray="12 1"/>
<path d="M601 586.6 Q601.5 588 604 588"/>
<line x1="603" y1="586.7" x2="650" y2="586.7" stroke-width="1.44"/>
<line x1="650" y1="586.7" x2="712" y2="586.7" stroke-width="1.32" stroke-dasharray="7 2"/>
<path d="M608.4 587 L611.5 590.6 L709.5 590.6 L712.5 587.3" stroke-width="1.56"/>
<path d="M650.9 583 V556 Q650.9 548 657 548 H675" stroke-width="1.56"/>
<rect x="653.8" y="547.4" width="20.6" height="5.2" rx="2" stroke-width="1.44"/>
<rect x="654.2" y="553.6" width="20.2" height="10" rx="4.6" stroke-width="1.68"/>
<path d="M653.5 566 H674.5" stroke-width="1.32"/>
<rect x="675.1" y="545.2" width="18.4" height="9.6" rx="2" stroke-width="1.56"/>
<rect x="675.1" y="555.8" width="18.4" height="7.2" rx="2" stroke-width="1.56"/>
<rect x="675.1" y="564" width="18.4" height="7.6" rx="2" stroke-width="1.56"/>
<rect x="681.7" y="572" width="4.5" height="7.2" fill="#000"/>
<path d="M650.9 583 H678 L681 580 H695.7" stroke-width="1.56"/>
<path d="M695.7 552 H708 Q712.5 552 712.5 556 V575 Q712.5 579 708 579 H695.7 Z" stroke-width="1.56"/>
<line x1="703.5" y1="552" x2="703.5" y2="579"/>
<path d="M712.5 557 Q715.2 565 712.5 574" stroke-width="1.68"/>
<rect x="702.5" y="542.5" width="9.8" height="9" stroke-width="1.44"/>
<line x1="707.4" y1="540.5" x2="707.4" y2="551.5"/>
<line x1="702.5" y1="546.5" x2="712.3" y2="546.5"/>
<ellipse cx="707.6" cy="556" rx="0.6" ry="0.6" fill="#000"/>
<circle cx="664.1" cy="574.6" r="2.7" fill="#000"/>
<ellipse cx="657.7" cy="574.2" rx="0.8" ry="0.8" fill="#000"/>
<rect x="639.3" y="553.5" width="4.5" height="11.5" stroke-width="1.56"/>
<line x1="639.3" y1="559" x2="643.8" y2="559"/>
<path d="M643.8 556 H648 L651 553.5 M643.8 562 H647 V572 Q647 573.5 649 573.5 H651" stroke-width="1.44"/>
<rect x="647.5" y="558" width="3.5" height="11" fill="#000"/>
<circle cx="650.4" cy="560" r="1.3" fill="#fff"/>
<rect x="651.5" y="583" width="5" height="3.4" stroke-width="1.44"/>
<rect x="688" y="583" width="5.5" height="3.4" stroke-width="1.44"/>
<ellipse cx="654" cy="584.8" rx="1.3" ry="1.1" fill="#000"/>
<ellipse cx="690.7" cy="584.8" rx="1.3" ry="1.1" fill="#000"/>
<line x1="660.7" y1="590.6" x2="660.7" y2="637" stroke-width="1.56"/>
<line x1="674.6" y1="590.6" x2="674.6" y2="637" stroke-width="1.56"/>
<circle cx="638.6" cy="623.3" r="13.3" stroke-width="1.68"/>
<line x1="620.2" y1="623.3" x2="655.3" y2="623.3" stroke-width="1.32"/>
<line x1="638.6" y1="608.5" x2="638.6" y2="646.5" stroke-width="1.32"/>
<rect x="633.5" y="595.9" width="10.4" height="11.8" rx="3" stroke-width="1.56"/>
<line x1="636.3" y1="607.7" x2="636.3" y2="610.3"/>
<line x1="641" y1="607.7" x2="641" y2="610.3"/>
<line x1="635" y1="609" x2="642" y2="609"/>
<path d="M627.7 637 L629.5 633.2 M647.5 633.2 L650.5 637 M648.5 632 Q651.5 632.3 651.8 636"/>
<line x1="643.9" y1="600.2" x2="653" y2="600.2" stroke-width="1.44"/>
<line x1="643.9" y1="603.5" x2="653" y2="603.5" stroke-width="1.44"/>
<rect x="653" y="592.5" width="3.5" height="14" fill="#000"/>
<path d="M656.5 592 H660.7 M656.5 597 H659.5 M656.5 602.5 H659.5 M657.8 606.5 V611.5 H660.7" stroke-width="1.44"/>
<rect x="657.5" y="608" width="3" height="4" fill="#000"/>
<circle cx="696.9" cy="623.3" r="18" stroke-width="1.8"/>
<circle cx="696.9" cy="623.3" r="13.3" stroke-width="1.44"/>
<line x1="679" y1="623.3" x2="714" y2="623.3" stroke-dasharray="3 2.5"/>
<line x1="696.9" y1="603.5" x2="696.9" y2="646.5" stroke-width="1.32"/>
<rect x="691.6" y="613" width="11" height="4.6" rx="2.3" stroke-width="1.44"/>
<line x1="697" y1="613" x2="697" y2="617.6"/>
<circle cx="693.2" cy="631.3" r="1.1" fill="#000"/>
<circle cx="700.4" cy="631.3" r="1.1" stroke-width="1.08"/>
<path d="M714.5 618.5 H718 L720 620.5 H729" stroke-width="1.44"/>
<path d="M714.8 628 H718.5 V626.3 H721" stroke-width="1.44"/>
<line x1="717.5" y1="618.8" x2="717.5" y2="628"/>
<circle cx="722.4" cy="623.4" r="1.4" fill="#000"/>
<rect x="732.5" y="619.4" width="12.6" height="8.4" rx="1.5" stroke-width="1.56"/>
<line x1="737.5" y1="619.4" x2="737.5" y2="627.8"/>
<path d="M729.3 619 V610 L731.5 606 H737 L739.2 610 V619.4" stroke-width="1.56"/>
<line x1="733" y1="606" x2="733" y2="604.3" stroke-width="1.56"/>
<line x1="735.8" y1="606" x2="735.8" y2="604.3" stroke-width="1.56"/>
<rect x="732.5" y="609.5" width="2.5" height="4.5" fill="#000"/>
<line x1="739.2" y1="612" x2="745" y2="612"/>
<path d="M608.4 645.8 Q607.4 643 610 640.5 L613.6 637.2 H719.5 L723.5 640.5 Q726 643 725 645.8" stroke-width="1.56"/>
<path d="M609.5 645.2 Q611 643.3 614 643.3 H719 Q722.5 643.3 724 645.2" stroke-width="1.32"/>
</g>
</g>
</svg>
</body></html>
